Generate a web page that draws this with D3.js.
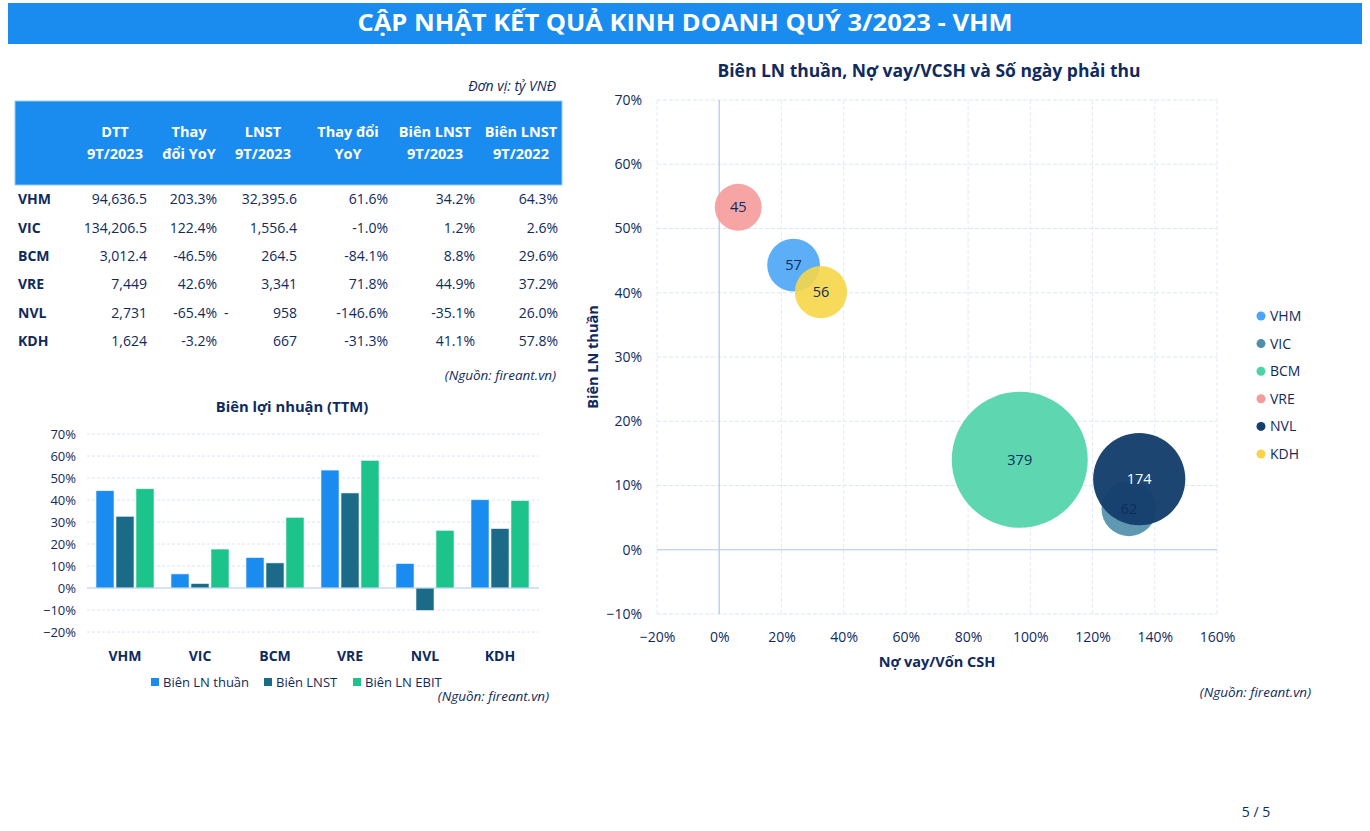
<!DOCTYPE html>
<html>
<head>
<meta charset="utf-8">
<script src="https://cdn.jsdelivr.net/npm/d3@7"></script>
<style>
  body { margin: 0; background: #fff; }
  svg { display: block; font-family: "Open Sans", "Noto Sans", sans-serif; }
</style>
</head>
<body>
<div id="chart"></div>
<script>
// ---- data ----
const tickers = ['VHM', 'VIC', 'BCM', 'VRE', 'NVL', 'KDH'];

// table (tỷ VNĐ)
const tableHeaders = [['DTT', '9T/2023'], ['Thay', 'đổi YoY'], ['LNST', '9T/2023'], ['Thay đổi', 'YoY'], ['Biên LNST', '9T/2023'], ['Biên LNST', '9T/2022']];
const dtt9T2023 = ['94,636.5', '134,206.5', '3,012.4', '7,449', '2,731', '1,624'];
const dttYoY = ['203.3%', '122.4%', '-46.5%', '42.6%', '-65.4%', '-3.2%'];
const lnst9T2023 = ['32,395.6', '1,556.4', '264.5', '3,341', '-958', '667'];
const lnstYoY = ['61.6%', '-1.0%', '-84.1%', '71.8%', '-146.6%', '-31.3%'];
const bienLNST2023 = ['34.2%', '1.2%', '8.8%', '44.9%', '-35.1%', '41.1%'];
const bienLNST2022 = ['64.3%', '2.6%', '29.6%', '37.2%', '26.0%', '57.8%'];

// bar chart: Biên lợi nhuận (TTM)
const barSeries = ['Biên LN thuần', 'Biên LNST', 'Biên LN EBIT'];
const bienLNThuan = [0.442, 0.064, 0.138, 0.536, 0.111, 0.401];
const bienLNST = [0.326, 0.020, 0.114, 0.432, -0.102, 0.270];
const bienLNEBIT = [0.451, 0.177, 0.321, 0.580, 0.262, 0.397];
const barTicks = [-0.2, -0.1, 0, 0.1, 0.2, 0.3, 0.4, 0.5, 0.6, 0.7];

// bubble chart
const noVayVCSH = [0.239, 1.317, 0.966, 0.061, 1.350, 0.327];
const bienLNThuanQ = [0.443, 0.064, 0.140, 0.533, 0.110, 0.401];
const soNgayPhaiThu = [57, 62, 379, 45, 174, 56];
const bubbleXTicks = [-0.2, 0, 0.2, 0.4, 0.6, 0.8, 1.0, 1.2, 1.4, 1.6];
const bubbleYTicks = [-0.1, 0, 0.1, 0.2, 0.3, 0.4, 0.5, 0.6, 0.7];

const navy = '#0f2a5e';
const barColors = ['#1a8cf0', '#1b6a87', '#1cc38b'];
const bubbleColors = ['#4aa5f6', '#4e8ea8', '#4cd3a8', '#f59a9a', '#153f6d', '#f6d648'];

const svg = d3.select('#chart').append('svg')
  .attr('width', 1370)
  .attr('height', 831);

// ---- title bar ----
svg.append('rect').attr('x', 8).attr('y', 3).attr('width', 1354).attr('height', 41).attr('fill', '#1a8cf0');
svg.append('text')
  .attr('x', 685).attr('y', 31)
  .attr('text-anchor', 'middle')
  .attr('fill', '#fff')
  .attr('font-size', 24).attr('font-weight', 700)
  .attr('textLength', 655).attr('lengthAdjust', 'spacingAndGlyphs')
  .text('CẬP NHẬT KẾT QUẢ KINH DOANH QUÝ 3/2023 - VHM');

// ---- table ----
const tbl = svg.append('g');
tbl.append('text').attr('x', 556).attr('y', 91).attr('text-anchor', 'end')
  .attr('font-style', 'italic').attr('font-size', 14).attr('fill', navy).text('Đơn vị: tỷ VNĐ');
tbl.append('rect').attr('x', 15).attr('y', 101).attr('width', 547).attr('height', 84)
  .attr('fill', '#1a8cf0').attr('stroke', '#9cc9f5').attr('stroke-width', 1);

const headCenters = [115, 189, 263, 348, 435, 521];
tableHeaders.forEach((h, i) => {
  h.forEach((line, j) => {
    tbl.append('text').attr('x', headCenters[i]).attr('y', 137 + j * 22)
      .attr('text-anchor', 'middle').attr('fill', '#fff')
      .attr('font-size', 14.5).attr('font-weight', 700).text(line);
  });
});

const cols = [dtt9T2023, dttYoY, lnst9T2023, lnstYoY, bienLNST2023, bienLNST2022];
const colRight = [147, 217, 297, 388, 475, 558];
const rowY = d3.scaleBand().domain(tickers).range([185, 355]);
tickers.forEach((t, r) => {
  const y = rowY(t) + rowY.bandwidth() / 2 + 5;
  tbl.append('text').attr('x', 18).attr('y', y).attr('font-weight', 700)
    .attr('font-size', 14).attr('fill', navy).text(t);
  cols.forEach((col, c) => {
    let v = col[r];
    // accounting style negative in LNST column
    if (c === 2 && v.startsWith('-')) {
      tbl.append('text').attr('x', 224).attr('y', y).attr('font-size', 14).attr('fill', navy).text('-');
      v = v.slice(1);
    }
    tbl.append('text').attr('x', colRight[c]).attr('y', y).attr('text-anchor', 'end')
      .attr('font-size', 14).attr('fill', navy).text(v);
  });
});
tbl.append('text').attr('x', 556).attr('y', 380).attr('text-anchor', 'end')
  .attr('font-style', 'italic').attr('font-size', 13.5).attr('fill', navy).text('(Nguồn: fireant.vn)');

// ---- bar chart ----
const bar = svg.append('g');
const bx0 = d3.scaleBand().domain(tickers).range([87.5, 537.5]).paddingInner(0.227).paddingOuter(0.1135);
const bx1 = d3.scaleBand().domain(barSeries).range([0, bx0.bandwidth()]).paddingInner(0.1);
const by = d3.scaleLinear().domain([-0.2, 0.7]).range([632, 434]);
const barValues = [bienLNThuan, bienLNST, bienLNEBIT];

bar.append('text').attr('x', 292).attr('y', 412).attr('text-anchor', 'middle')
  .attr('font-weight', 700).attr('font-size', 14.8).attr('fill', navy).text('Biên lợi nhuận (TTM)');

bar.selectAll('line.grid').data(barTicks.filter(d => d !== 0)).enter().append('line')
  .attr('x1', 87).attr('x2', 539)
  .attr('y1', d => by(d)).attr('y2', d => by(d))
  .attr('stroke', '#dbe6f6').attr('stroke-dasharray', '3,2');

const byAxis = bar.append('g').attr('transform', 'translate(76,0)')
  .call(d3.axisLeft(by).tickValues(barTicks).tickFormat(d3.format('.0%')).tickSize(0))
  .attr('font-family', null).attr('font-size', null);
byAxis.select('.domain').remove();
byAxis.selectAll('text').attr('font-size', 13).attr('fill', navy).attr('dx', 3);

const groups = bar.selectAll('g.grp').data(tickers).enter().append('g')
  .attr('transform', d => 'translate(' + bx0(d) + ',0)');
groups.selectAll('rect').data((d, i) => barSeries.map((s, k) => ({ s, k, v: barValues[k][i] })))
  .enter().append('rect')
  .attr('x', d => bx1(d.s))
  .attr('width', bx1.bandwidth())
  .attr('y', d => by(Math.max(0, d.v)))
  .attr('height', d => Math.abs(by(d.v) - by(0)))
  .attr('fill', d => barColors[d.k])
  .attr('stroke', '#e8f2fc').attr('stroke-width', 0.6);

bar.append('line').attr('x1', 87).attr('x2', 539).attr('y1', by(0)).attr('y2', by(0))
  .attr('stroke', '#a9c8f2').attr('stroke-width', 1.2);

const bxAxis = bar.append('g').attr('transform', 'translate(0,658)')
  .call(d3.axisBottom(bx0).tickSize(0))
  .attr('font-family', null).attr('font-size', null);
bxAxis.select('.domain').remove();
bxAxis.selectAll('text').attr('font-size', 14).attr('font-weight', 700).attr('fill', navy).attr('dy', 0);

const legX = [151, 264, 353];
barSeries.forEach((s, k) => {
  bar.append('rect').attr('x', legX[k]).attr('y', 678).attr('width', 8).attr('height', 8).attr('fill', barColors[k]);
  bar.append('text').attr('x', legX[k] + 12).attr('y', 686.5).attr('font-size', 13).attr('fill', navy).text(s);
});
bar.append('text').attr('x', 549).attr('y', 701).attr('text-anchor', 'end')
  .attr('font-style', 'italic').attr('font-size', 13.5).attr('fill', navy).text('(Nguồn: fireant.vn)');

// ---- bubble chart ----
const bub = svg.append('g');
const x = d3.scaleLinear().domain([-0.2, 1.6]).range([657, 1217]);
const y = d3.scaleLinear().domain([-0.1, 0.7]).range([614, 100]);
const r = d3.scaleSqrt().domain([0, 379]).range([0, 68]);

bub.append('text').attr('x', 929).attr('y', 77).attr('text-anchor', 'middle')
  .attr('font-weight', 700).attr('font-size', 17.5).attr('fill', navy)
  .text('Biên LN thuần, Nợ vay/VCSH và Số ngày phải thu');

bub.selectAll('line.gy').data(bubbleYTicks.filter(d => d !== 0)).enter().append('line')
  .attr('x1', x(-0.2)).attr('x2', x(1.6)).attr('y1', d => y(d)).attr('y2', d => y(d))
  .attr('stroke', '#dbe6f6').attr('stroke-dasharray', '4,2');
bub.selectAll('line.gx').data(bubbleXTicks.filter(d => d !== 0)).enter().append('line')
  .attr('y1', y(-0.1)).attr('y2', y(0.7)).attr('x1', d => x(d)).attr('x2', d => x(d))
  .attr('stroke', '#e3ebf8').attr('stroke-dasharray', '4,2');
bub.append('line').attr('x1', x(-0.2)).attr('x2', x(1.6)).attr('y1', y(0)).attr('y2', y(0))
  .attr('stroke', '#a9c8f2').attr('stroke-width', 1.2);
bub.append('line').attr('x1', x(0)).attr('x2', x(0)).attr('y1', y(-0.1)).attr('y2', y(0.7))
  .attr('stroke', '#a9c8f2').attr('stroke-width', 1.2);

const yAx = bub.append('g').attr('transform', 'translate(643,0)')
  .call(d3.axisLeft(y).tickValues(bubbleYTicks).tickFormat(d3.format('.0%')).tickSize(0))
  .attr('font-family', null).attr('font-size', null);
yAx.select('.domain').remove();
yAx.selectAll('text').attr('font-size', 14).attr('fill', navy).attr('dx', 2);

const xAx = bub.append('g').attr('transform', 'translate(0,629)')
  .call(d3.axisBottom(x).tickValues(bubbleXTicks).tickFormat(d3.format('.0%')).tickSize(0))
  .attr('font-family', null).attr('font-size', null);
xAx.select('.domain').remove();
xAx.selectAll('text').attr('font-size', 14).attr('fill', navy);

bub.append('text').attr('x', 937).attr('y', 667).attr('text-anchor', 'middle')
  .attr('font-weight', 700).attr('font-size', 14.5).attr('fill', navy).text('Nợ vay/Vốn CSH');
bub.append('text').attr('transform', 'translate(598,357) rotate(-90)').attr('text-anchor', 'middle')
  .attr('font-weight', 700).attr('font-size', 14.5).attr('fill', navy).text('Biên LN thuần');

const bubbles = tickers.map((t, i) => ({ t, i, x: noVayVCSH[i], y: bienLNThuanQ[i], s: soNgayPhaiThu[i] }));
bub.selectAll('circle.b').data(bubbles).enter().append('circle')
  .attr('cx', d => x(d.x)).attr('cy', d => y(d.y)).attr('r', d => r(d.s))
  .attr('fill', d => bubbleColors[d.i]).attr('fill-opacity', d => d.t === 'NVL' ? 0.97 : 0.9);
bub.selectAll('text.bl').data(bubbles).enter().append('text')
  .attr('x', d => x(d.x)).attr('y', d => y(d.y) + 5)
  .attr('text-anchor', 'middle').attr('font-size', 14.5)
  .attr('fill', d => d.t === 'NVL' ? '#fff' : navy)
  .text(d => d.s);

const legY = d3.scalePoint().domain(tickers).range([316, 454]);
tickers.forEach((t, i) => {
  bub.append('circle').attr('cx', 1261).attr('cy', legY(t)).attr('r', 4.5).attr('fill', bubbleColors[i]);
  bub.append('text').attr('x', 1270).attr('y', legY(t) + 5).attr('font-size', 14).attr('fill', navy).text(t);
});

bub.append('text').attr('x', 1311).attr('y', 697).attr('text-anchor', 'end')
  .attr('font-style', 'italic').attr('font-size', 13.5).attr('fill', navy).text('(Nguồn: fireant.vn)');

svg.append('text').attr('x', 1256).attr('y', 817).attr('text-anchor', 'middle')
  .attr('font-size', 14).attr('fill', navy).text('5 / 5');
</script>
</body>
</html>
